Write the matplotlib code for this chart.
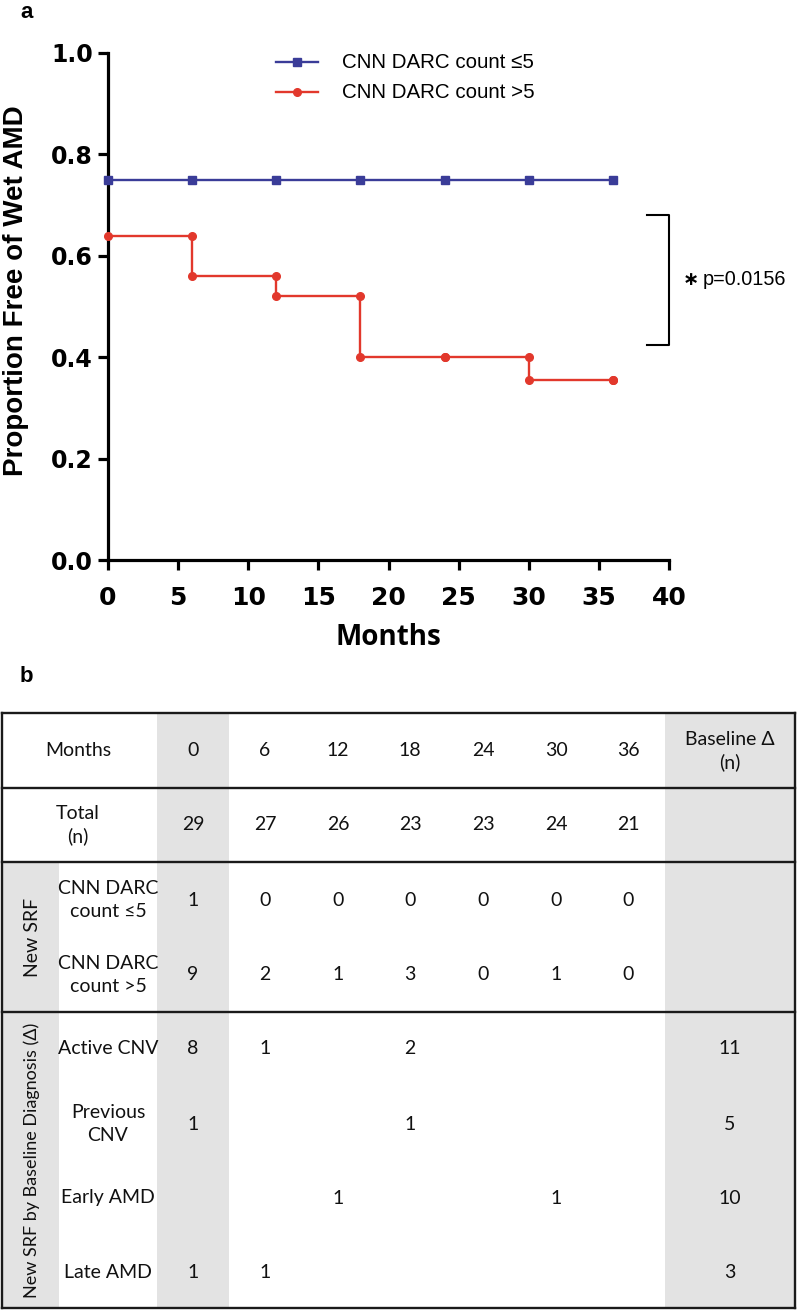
import matplotlib
matplotlib.use('Agg')
import matplotlib.pyplot as plt
from matplotlib.patches import Rectangle

# panel a: survival curves
months = [0, 6, 12, 18, 24, 30, 36]
low_surv = [0.75, 0.75, 0.75, 0.75, 0.75, 0.75, 0.75]
high_surv = [0.64, 0.56, 0.52, 0.40, 0.40, 0.355, 0.355]
legend_labels = ['CNN DARC count ≤5', 'CNN DARC count >5']
p_text = 'p=0.0156'
bracket_y = [0.425, 0.68]

# panel b: table
hdr_months = ['0', '6', '12', '18', '24', '30', '36']
totals = ['29', '27', '26', '23', '23', '24', '21']
srf_low = ['1', '0', '0', '0', '0', '0', '0']
srf_high = ['9', '2', '1', '3', '0', '1', '0']
diag_names = ['Active CNV', 'Previous\nCNV', 'Early AMD', 'Late AMD']
diag_counts = [['8', '1', '', '2', '', '', ''],
               ['1', '', '', '1', '', '', ''],
               ['', '', '1', '', '', '1', ''],
               ['1', '1', '', '', '', '', '']]
diag_baseline = ['11', '5', '10', '3']

W, H = 800, 1311
fig = plt.figure(figsize=(W / 100, H / 100), dpi=100)

blue = '#3a3c98'
red = '#e2382c'

ax = fig.add_axes([108 / W, 1 - 560 / H, 561 / W, 507 / H])
ax.plot(months, low_surv, color=blue, lw=1.7, marker='s', ms=5.5, clip_on=False, zorder=3)
xs, ys = [months[0]], [high_surv[0]]
for i in range(1, len(months)):
    xs += [months[i], months[i]]
    ys += [high_surv[i - 1], high_surv[i]]
ax.plot(xs, ys, color=red, lw=1.7, marker='o', ms=5.5, clip_on=False, zorder=3)
ax.set_xlim(0, 40)
ax.set_ylim(0, 1.0)
ax.set_xticks(range(0, 41, 5))
ax.set_yticks([0, 0.2, 0.4, 0.6, 0.8, 1.0])
ax.set_yticklabels(['0.0', '0.2', '0.4', '0.6', '0.8', '1.0'])
for s in ['top', 'right']:
    ax.spines[s].set_visible(False)
for s in ['left', 'bottom']:
    ax.spines[s].set_linewidth(2.3)
ax.tick_params(width=2.3, length=7, labelsize=17, direction='out')
ax.tick_params(axis='x', labelsize=18, pad=12)
ax.tick_params(axis='y', pad=4)
for lab in ax.get_xticklabels() + ax.get_yticklabels():
    lab.set_fontweight('bold')
ax.set_xlabel('Months', fontsize=20, fontweight='bold', family='Open Sans', labelpad=9)
ax.set_ylabel('Proportion Free of Wet AMD', fontsize=20, fontweight='bold',
              family='Liberation Sans', va='center')
ax.yaxis.set_label_coords(-0.164, 0.532)

# legend drawn manually
for k, (lab, col, mk) in enumerate(zip(legend_labels, [blue, red], ['s', 'o'])):
    yy = 0.982 - k * 0.059
    ax.plot([12.0, 15.0], [yy, yy], color=col, lw=1.7, clip_on=False)
    ax.plot([13.5], [yy], color=col, marker=mk, ms=5.5, clip_on=False)
    ax.text(16.7, yy, lab, fontsize=14.8, family='Liberation Sans', va='center', ha='left')

# significance bracket
bx0, bx1 = 38.4, 40.0
ax.plot([bx0, bx1, bx1, bx0], [bracket_y[1], bracket_y[1], bracket_y[0], bracket_y[0]],
        color='black', lw=1.5, clip_on=False)
ax.text(41.0, sum(bracket_y) / 2, '∗', fontsize=14, fontweight='bold', va='center', ha='left')
ax.text(42.4, sum(bracket_y) / 2, p_text, fontsize=14.3, family='Liberation Sans', va='center', ha='left')

fig.text(20 / W, 1 - 12 / H, 'a', fontsize=16, fontweight='bold', family='Liberation Sans', va='center')
fig.text(20 / W, 1 - 676 / H, 'b', fontsize=16, fontweight='bold', family='Liberation Sans', va='center')

# table in pixel coordinates
tb = fig.add_axes([0, 0, 1, 1])
tb.set_xlim(0, W)
tb.set_ylim(H, 0)
tb.axis('off')

top, bot, left, right = 713, 1308, 2, 795
rows = [713, 788, 862, 1012, 1308]
shade = '#e3e3e3'
tb.add_patch(Rectangle((157, top), 229 - 157, bot - top, color=shade, lw=0))
tb.add_patch(Rectangle((665, top), right - 665, bot - top, color=shade, lw=0))
tb.add_patch(Rectangle((left, 862), 59 - left, bot - 862, color=shade, lw=0))
for y in rows:
    tb.plot([left, right], [y, y], color='#1a1a1a', lw=1.7)
tb.plot([left, left], [top, bot], color='#1a1a1a', lw=1.7)
tb.plot([right, right], [top, bot], color='#1a1a1a', lw=1.7)

col_x = [193, 265, 338, 410, 483, 556, 628]
base_x = 730
lab_x = 108
tf = dict(fontsize=14, family='Lato', ha='center', va='center', color='#111111', linespacing=1.4)

tb.text(78, 751, 'Months', **tf)
for x, m in zip(col_x, hdr_months):
    tb.text(x, 751, m, **tf)
tb.text(base_x, 751, 'Baseline Δ\n(n)', **tf)

tb.text(78, 825, 'Total\n(n)', **tf)
for x, v in zip(col_x, totals):
    tb.text(x, 825, v, **tf)

tb.text(lab_x, 900, 'CNN DARC\ncount ≤5', **tf)
tb.text(lab_x, 975, 'CNN DARC\ncount >5', **tf)
for x, a, b in zip(col_x, srf_low, srf_high):
    tb.text(x, 900, a, **tf)
    tb.text(x, 975, b, **tf)
tb.text(32, 937, 'New SRF', rotation=90, **tf)

diag_y = [1049, 1124, 1198, 1273]
for yv, name, vals, bl in zip(diag_y, diag_names, diag_counts, diag_baseline):
    tb.text(lab_x, yv, name, **tf)
    for x, v in zip(col_x, vals):
        if v:
            tb.text(x, yv, v, **tf)
    tb.text(base_x, yv, bl, **tf)
tb.text(32, 1160, 'New SRF by Baseline Diagnosis (Δ)', rotation=90, **dict(tf, fontsize=13))

fig.savefig('out.png', dpi=100)
